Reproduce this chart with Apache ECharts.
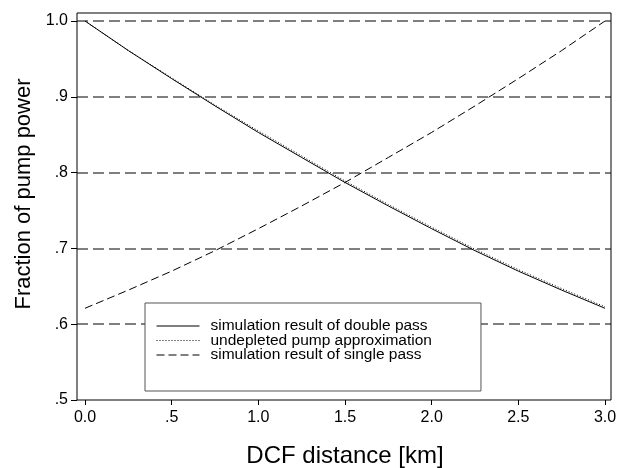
<!DOCTYPE html>
<html>
<head>
<meta charset="utf-8">
<script src="https://cdn.jsdelivr.net/npm/echarts@6/dist/echarts.min.js"></script>
<style>html,body{margin:0;padding:0;background:#fff;}#c{width:618px;height:468px;}</style>
</head>
<body>
<div id="c"></div>
<script>
var distance = [0, 0.25, 0.5, 0.75, 1.0, 1.25, 1.5, 1.75, 2.0, 2.25, 2.5, 2.75, 3.0];
var doublePass = [1.000, 0.961, 0.924, 0.888, 0.853, 0.820, 0.787, 0.756, 0.726, 0.697, 0.670, 0.645, 0.621];
var undepleted = [1.000, 0.961, 0.925, 0.889, 0.855, 0.822, 0.789, 0.758, 0.728, 0.699, 0.672, 0.647, 0.623];
var singlePass = [0.621, 0.645, 0.670, 0.697, 0.726, 0.756, 0.787, 0.820, 0.853, 0.888, 0.924, 0.961, 1.000];
var xTicks = [0, 0.5, 1.0, 1.5, 2.0, 2.5, 3.0];
var yTicks = [0.5, 0.6, 0.7, 0.8, 0.9, 1.0];
var seriesNames = ['simulation result of double pass', 'undepleted pump approximation', 'simulation result of single pass'];

function pairs(xs, ys) { return xs.map(function (x, i) { return [x, ys[i]]; }); }
function fmt(v) {
  var s = (Math.round(v * 10) / 10).toFixed(1);
  if (v > 0 && v < 1) s = s.replace(/^0/, '');
  return s;
}
var FONT = 'Liberation Sans, Arial, sans-serif';

var chart = echarts.init(document.getElementById('c'), null, {renderer: 'canvas'});
chart.setOption({
  animation: false,
  backgroundColor: '#fff',
  textStyle: {fontFamily: FONT, color: '#000'},
  grid: [
    {left: 77, right: 7, top: 21, bottom: 68, outerBoundsMode: 'none', containLabel: false},
    {left: 85, right: 13, top: 21, bottom: 68, outerBoundsMode: 'none', containLabel: false},
    {left: 77, right: 7, top: 13, bottom: 68, outerBoundsMode: 'none', containLabel: false,
      show: true, borderColor: '#000', borderWidth: 1, backgroundColor: 'transparent', z: 3}
  ],
  xAxis: [
    {gridIndex: 0, type: 'value', min: 0, max: 1, show: false},
    {gridIndex: 1, type: 'value', min: xTicks[0], max: xTicks[xTicks.length - 1], interval: 0.5,
      name: 'DCF distance [km]', nameLocation: 'middle', nameGap: 44,
      nameTextStyle: {fontSize: 24, color: '#000', fontFamily: FONT},
      axisLine: {show: false},
      axisTick: {show: true, length: 5, lineStyle: {color: '#000', width: 1}},
      axisLabel: {margin: 10, fontSize: 16, color: '#000', fontFamily: FONT, formatter: fmt},
      splitLine: {show: false}},
    {gridIndex: 2, type: 'value', min: 0, max: 1, show: false}
  ],
  yAxis: [
    {gridIndex: 0, type: 'value', min: yTicks[0], max: yTicks[yTicks.length - 1], interval: 0.1,
      name: 'Fraction of pump power', nameLocation: 'middle', nameGap: 42,
      nameTextStyle: {fontSize: 22, color: '#000', fontFamily: FONT, padding: [0, 0, 0, 33]},
      axisLine: {show: false},
      axisTick: {show: true, length: 6, lineStyle: {color: '#000', width: 1}},
      axisLabel: {margin: 9, fontSize: 16, color: '#000', fontFamily: FONT, formatter: fmt},
      splitLine: {show: true, showMinLine: false, lineStyle: {color: '#555', width: 1.5, type: [11, 5]}}},
    {gridIndex: 1, type: 'value', min: yTicks[0], max: yTicks[yTicks.length - 1], interval: 0.1, show: false},
    {gridIndex: 2, type: 'value', min: 0, max: 1, show: false}
  ],
  legend: {
    orient: 'vertical', left: 145, top: 303,
    backgroundColor: '#fff', borderColor: '#555', borderWidth: 1,
    padding: [15, 49, 28, 11],
    itemWidth: 43, itemHeight: 14, itemGap: -1.5,
    itemStyle: {color: 'rgba(0,0,0,0)', borderWidth: 0, opacity: 0},
    lineStyle: {width: 1},
    textStyle: {fontSize: 15.5, color: '#000', fontFamily: FONT, padding: [0, 0, 0, 6]},
    data: seriesNames,
    z: 10
  },
  series: [
    {name: seriesNames[0], type: 'line', xAxisIndex: 1, yAxisIndex: 1, data: pairs(distance, doublePass),
      symbol: 'none', lineStyle: {color: '#000', width: 1, type: 'solid'}, itemStyle: {color: '#000'}, z: 5},
    {name: seriesNames[1], type: 'line', xAxisIndex: 1, yAxisIndex: 1, data: pairs(distance, undepleted),
      symbol: 'none', lineStyle: {color: '#000', width: 1, type: [1, 2]}, itemStyle: {color: '#000'}, z: 4},
    {name: seriesNames[2], type: 'line', xAxisIndex: 1, yAxisIndex: 1, data: pairs(distance, singlePass),
      symbol: 'none', lineStyle: {color: '#000', width: 1, type: [8, 4]}, itemStyle: {color: '#000'}, z: 5}
  ]
});
</script>
</body>
</html>
